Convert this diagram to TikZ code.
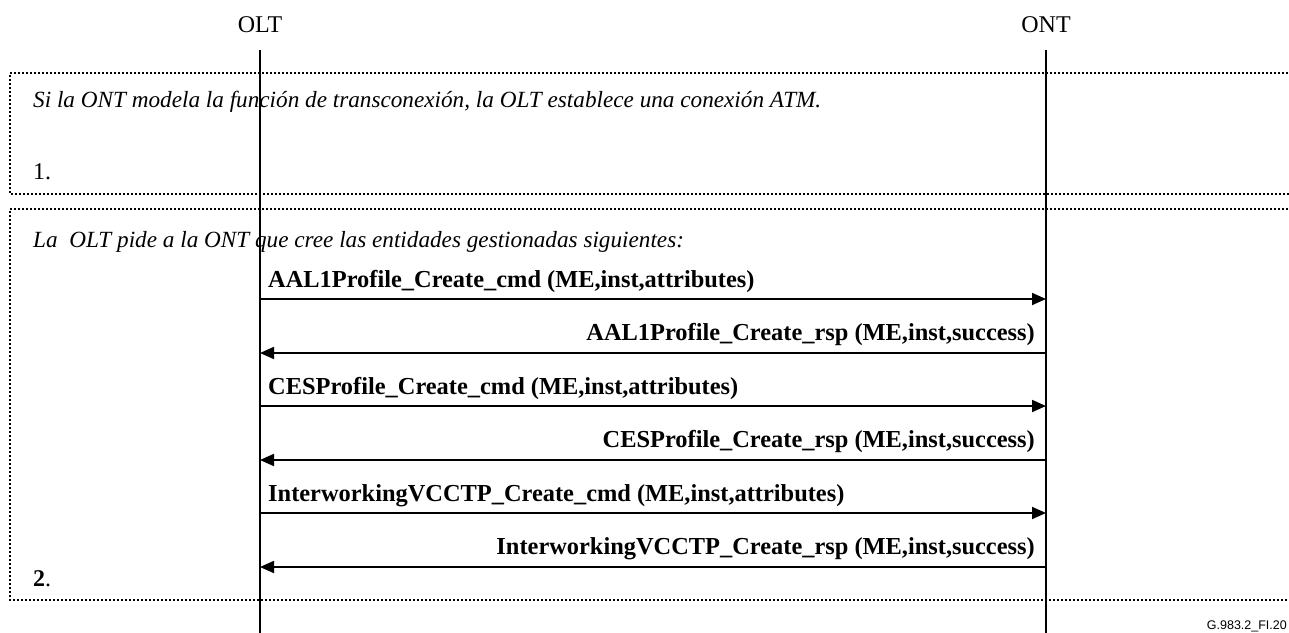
\documentclass[tikz,border=0pt]{standalone}
\usepackage{fontspec}
\setmainfont{Liberation Serif}
\setsansfont{Liberation Sans}
\usetikzlibrary{arrows.meta,positioning}

\begin{document}
\begin{tikzpicture}[x=1pt,y=-1pt,font=\fontsize{24}{28}\selectfont,
    life/.style={line width=1.8pt},
    msg/.style={line width=1.8pt,-{Triangle[length=14pt,width=12pt]}},
    zone/.style={line width=1.5pt,dash pattern=on 2pt off 2pt},
    note/.style={anchor=base west,inner sep=0pt,font=\fontsize{23.2}{27}\selectfont\itshape},
    msgtxt/.style={inner sep=0pt,font=\fontsize{24.4}{28}\selectfont\bfseries}]
  \useasboundingbox (0,0) rectangle (1289,632);
  % actors and lifelines
  \node (olt) at (260,25) {OLT};
  \node (ont) at (1046,25) {ONT};
  \coordinate (olt top) at (260,50);
  \coordinate (olt bot) at (260,640);
  \coordinate (ont top) at (1046,50);
  \coordinate (ont bot) at (1046,640);
  % dotted zones
  \draw[zone] (1300,73) -- (10,73) -- (10,194) -- (1300,194);
  \draw[zone] (1300,209) -- (10,209) -- (10,600) -- (1300,600);
  \draw[life] (olt top) -- (olt bot);
  \draw[life] (ont top) -- (ont bot);
  % zone 1
  \node[note] (n1) at (33,107) {Si la ONT modela la función de transconexión, la OLT establece una conexión ATM.};
  \node[anchor=base west,inner sep=0pt] (s1) at (33,179) {1.};
  % zone 2
  \node[note] (n2) at (33,247) {La\ \ OLT pide a la ONT que cree las entidades gestionadas siguientes:};
  \coordinate (a1) at (260,299); \coordinate (b1) at (1046,299);
  \coordinate (a2) at (260,353); \coordinate (b2) at (1046,353);
  \coordinate (a3) at (260,406); \coordinate (b3) at (1046,406);
  \coordinate (a4) at (260,460); \coordinate (b4) at (1046,460);
  \coordinate (a5) at (260,513); \coordinate (b5) at (1046,513);
  \coordinate (a6) at (260,567); \coordinate (b6) at (1046,567);
  \draw[msg] (a1) -- (b1);
  \draw[msg] (b2) -- (a2);
  \draw[msg] (a3) -- (b3);
  \draw[msg] (b4) -- (a4);
  \draw[msg] (a5) -- (b5);
  \draw[msg] (b6) -- (a6);
  \node[msgtxt,anchor=base west] (m1) at (268,287) {AAL1Profile\_Create\_cmd (ME,inst,attributes)};
  \node[msgtxt,anchor=base east] (m2) at (1035,340) {AAL1Profile\_Create\_rsp (ME,inst,success)};
  \node[msgtxt,anchor=base west] (m3) at (268,394) {CESProfile\_Create\_cmd (ME,inst,attributes)};
  \node[msgtxt,anchor=base east] (m4) at (1035,447) {CESProfile\_Create\_rsp (ME,inst,success)};
  \node[msgtxt,anchor=base west] (m5) at (268,501) {InterworkingVCCTP\_Create\_cmd (ME,inst,attributes)};
  \node[msgtxt,anchor=base east] (m6) at (1035,554) {InterworkingVCCTP\_Create\_rsp (ME,inst,success)};
  \node[anchor=base west,inner sep=0pt] (s2) at (33,586) {\textbf{2}.};
  % figure tag
  \node[anchor=base east,inner sep=0pt,font=\sffamily\fontsize{12.5}{14}\selectfont] (tag) at (1287,629) {G.983.2\_FI.20};
\end{tikzpicture}
\end{document}
